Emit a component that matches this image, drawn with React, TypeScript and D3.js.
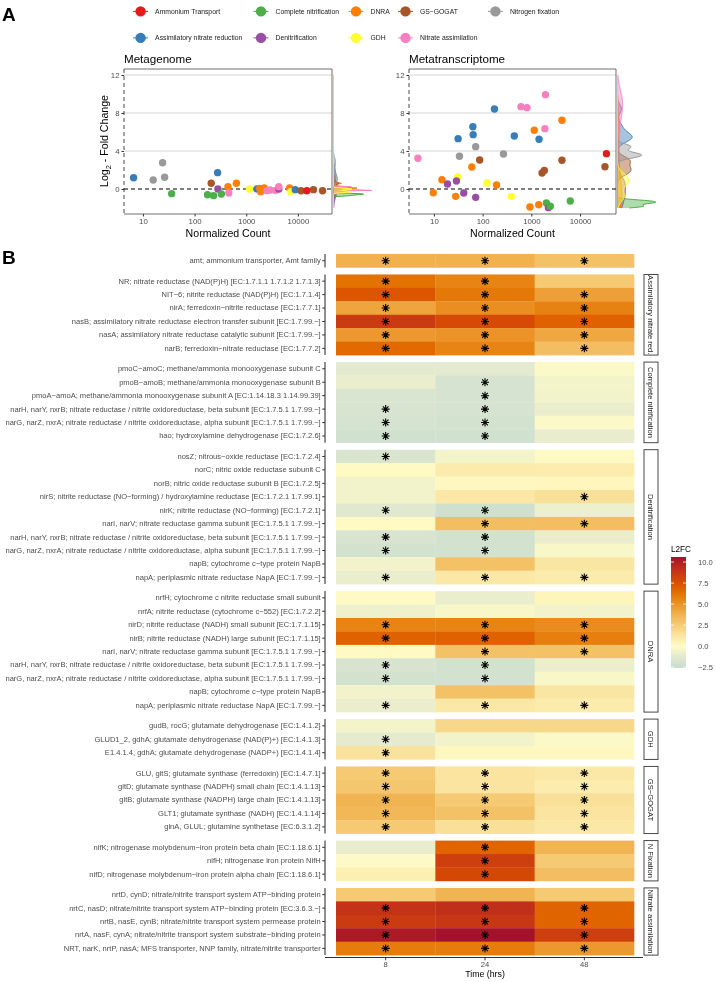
import React, { useEffect, useRef } from 'react';
import * as d3 from 'd3';

const FONT = 'Liberation Sans, Arial, Helvetica, sans-serif';

// ---- Panel A data ----
const groupNames = [
  'Ammonium Transport', 'Assimilatory nitrate reduction', 'Complete nitrification',
  'Denitrification', 'DNRA', 'GDH', 'GS\u2212GOGAT', 'Nitrate assimilation', 'Nitrogen fixation',
];
const groupColors = ['#E41A1C', '#377EB8', '#4DAF4A', '#984EA3', '#FF7F00', '#FFFF33', '#A65628', '#F781BF', '#999999'];

// Metagenome: group index, normalized count, log2 fold change
const mgGroup = [1, 8, 8, 8, 2, 2, 2, 6, 1, 3, 2, 4, 7, 4, 5, 1, 4, 4, 4, 7, 7, 7, 3, 7, 4, 5, 1, 6, 0, 6, 6];
const mgCount = [6.6, 15.8, 24, 26.3, 36, 178, 233, 210, 279, 283, 330, 443, 460, 645, 1160, 1610, 1820, 1900, 2230, 2500, 2900, 3700, 4270, 4270, 6900, 7300, 8900, 11500, 14900, 20000, 30000];
const mgL2fc = [1.19, 0.95, 2.77, 1.23, -0.49, -0.6, -0.7, 0.6, 1.72, 0, -0.53, 0.25, -0.42, 0.6, 0, 0, 0.07, -0.28, 0.1, -0.17, -0.1, -0.14, 0, 0.25, 0.1, -0.28, -0.07, -0.18, -0.18, -0.07, -0.18];

// Metatranscriptome
const mtGroup = [7, 4, 4, 5, 3, 3, 4, 1, 8, 3, 1, 1, 4, 8, 3, 6, 5, 1, 4, 8, 5, 1, 7, 7, 4, 4, 1, 4, 6, 6, 7, 7, 2, 3, 2, 4, 6, 2, 0, 6];
const mtCount = [4.7, 9.7, 14.6, 31, 19, 29, 28, 31.4, 33.5, 41, 63, 64, 60, 72, 72, 87, 123, 175, 193, 268, 390, 447, 613, 815, 935, 1150, 1440, 1420, 1660, 1850, 1900, 1950, 2040, 2240, 2450, 4250, 4250, 6300, 34800, 32500];
const mtL2fc = [3.23, -0.39, 0.98, 1.26, 0.53, 0.84, -0.77, 5.3, 3.44, -0.42, 6.56, 5.72, 2.32, 4.46, -0.88, 3.05, 0.63, 8.42, 0.42, 3.68, -0.77, 5.58, 8.67, 8.56, -1.89, 6.18, 5.23, -1.65, 1.68, 1.96, 6.35, 9.93, -1.47, -1.96, -1.82, 7.23, 3.02, -1.26, 3.72, 2.35];

const xTicks = [10, 100, 1000, 10000];
const yTicks = [0, 4, 8, 12];

// ---- Panel B data ----
const stripLabels = ['', 'Assimilatory nitrate red.', 'Complete nitrification', 'Denitrification', 'DNRA', 'GDH', 'GS\u2212GOGAT', 'N Fixation', 'Nitrate assimilation'];
const timePoints = ['8', '24', '48'];

const rowLabels = [
  'amt;  ammonium transporter, Amt family',
  'NR; nitrate reductase (NAD(P)H) [EC:1.7.1.1 1.7.1.2 1.7.1.3]',
  'NIT\u22126; nitrite reductase (NAD(P)H) [EC:1.7.1.4]',
  'nirA; ferredoxin\u2212nitrite reductase [EC:1.7.7.1]',
  'nasB; assimilatory nitrate reductase electron transfer subunit [EC:1.7.99.\u2212]',
  'nasA; assimilatory nitrate reductase catalytic subunit [EC:1.7.99.\u2212]',
  'narB; ferredoxin\u2212nitrate reductase [EC:1.7.7.2]',
  'pmoC\u2212amoC; methane/ammonia monooxygenase subunit C',
  'pmoB\u2212amoB; methane/ammonia monooxygenase subunit B',
  'pmoA\u2212amoA; methane/ammonia monooxygenase subunit A [EC:1.14.18.3 1.14.99.39]',
  'narH, narY, nxrB; nitrate reductase / nitrite oxidoreductase, beta subunit [EC:1.7.5.1 1.7.99.\u2212]',
  'narG, narZ, nxrA; nitrate reductase / nitrite oxidoreductase, alpha subunit [EC:1.7.5.1 1.7.99.\u2212]',
  'hao; hydroxylamine dehydrogenase [EC:1.7.2.6]',
  'nosZ; nitrous\u2212oxide reductase [EC:1.7.2.4]',
  'norC; nitric oxide reductase subunit C',
  'norB; nitric oxide reductase subunit B [EC:1.7.2.5]',
  'nirS; nitrite reductase (NO\u2212forming) / hydroxylamine reductase [EC:1.7.2.1 1.7.99.1]',
  'nirK; nitrite reductase (NO\u2212forming) [EC:1.7.2.1]',
  'narI, narV; nitrate reductase gamma subunit [EC:1.7.5.1 1.7.99.\u2212]',
  'narH, narY, nxrB; nitrate reductase / nitrite oxidoreductase, beta subunit [EC:1.7.5.1 1.7.99.\u2212]',
  'narG, narZ, nxrA; nitrate reductase / nitrite oxidoreductase, alpha subunit [EC:1.7.5.1 1.7.99.\u2212]',
  'napB; cytochrome c\u2212type protein NapB',
  'napA; periplasmic nitrate reductase NapA [EC:1.7.99.\u2212]',
  'nrfH; cytochrome c nitrite reductase small subunit',
  'nrfA; nitrite reductase (cytochrome c\u2212552) [EC:1.7.2.2]',
  'nirD; nitrite reductase (NADH) small subunit [EC:1.7.1.15]',
  'nirB; nitrite reductase (NADH) large subunit [EC:1.7.1.15]',
  'narI, narV; nitrate reductase gamma subunit [EC:1.7.5.1 1.7.99.\u2212]',
  'narH, narY, nxrB; nitrate reductase / nitrite oxidoreductase, beta subunit [EC:1.7.5.1 1.7.99.\u2212]',
  'narG, narZ, nxrA; nitrate reductase / nitrite oxidoreductase, alpha subunit [EC:1.7.5.1 1.7.99.\u2212]',
  'napB; cytochrome c\u2212type protein NapB',
  'napA; periplasmic nitrate reductase NapA [EC:1.7.99.\u2212]',
  'gudB, rocG; glutamate dehydrogenase [EC:1.4.1.2]',
  'GLUD1_2, gdhA; glutamate dehydrogenase (NAD(P)+) [EC:1.4.1.3]',
  'E1.4.1.4, gdhA; glutamate dehydrogenase (NADP+) [EC:1.4.1.4]',
  'GLU, gltS; glutamate synthase (ferredoxin) [EC:1.4.7.1]',
  'gltD; glutamate synthase (NADPH) small chain [EC:1.4.1.13]',
  'gltB; glutamate synthase (NADPH) large chain [EC:1.4.1.13]',
  'GLT1; glutamate synthase (NADH) [EC:1.4.1.14]',
  'glnA, GLUL; glutamine synthetase [EC:6.3.1.2]',
  'nifK; nitrogenase molybdenum\u2212iron protein beta chain [EC:1.18.6.1]',
  'nifH; nitrogenase iron protein NifH',
  'nifD; nitrogenase molybdenum\u2212iron protein alpha chain [EC:1.18.6.1]',
  'nrtD, cynD; nitrate/nitrite transport system ATP\u2212binding protein',
  'nrtC, nasD; nitrate/nitrite transport system ATP\u2212binding protein [EC:3.6.3.\u2212]',
  'nrtB, nasE, cynB; nitrate/nitrite transport system permease protein',
  'nrtA, nasF, cynA; nitrate/nitrite transport system substrate\u2212binding protein',
  'NRT, narK, nrtP, nasA; MFS transporter, NNP family, nitrate/nitrite transporter',
];
const rowPanel = [0, 1, 1, 1, 1, 1, 1, 2, 2, 2, 2, 2, 2, 3, 3, 3, 3, 3, 3, 3, 3, 3, 3, 4, 4, 4, 4, 4, 4, 4, 4, 4, 5, 5, 5, 6, 6, 6, 6, 6, 7, 7, 7, 8, 8, 8, 8, 8];

const l2fc8 = [3.8, 6.3, 7.3, 4.3, 8.6, 4.8, 6.6, -1.2, -0.9, -1.7, -1.8, -1.9, -2.1, -1.7, 0.1, -0.6, -0.6, -1.4, 0.1, -1.8, -2.0, -0.6, -0.9, 0.1, -0.7, 5.6, 6.9, 0.1, -1.8, -2.0, -0.6, -0.9, -0.5, -1.1, 1.4, 2.6, 2.8, 3.7, 3.5, 2.6, -1.0, -0.1, 0.7, 2.6, 9.0, 8.6, 10.2, 5.9];
const l2fc24 = [3.8, 5.6, 6.0, 5.2, 7.8, 5.0, 5.6, -1.2, -1.9, -1.9, -1.9, -2.0, -2.1, -0.5, 0.9, 0.2, 1.1, -2.2, 3.2, -2.0, -2.0, 3.0, 1.1, -0.9, -0.3, 5.6, 6.9, 3.0, -2.0, -2.0, 3.0, 1.1, 1.9, -0.6, 0.2, 1.3, 1.3, 2.6, 3.0, 1.5, 6.8, 8.4, 7.9, 3.7, 9.2, 8.8, 10.6, 5.9];
const l2fc48 = [3.0, 2.6, 4.5, 5.7, 6.9, 4.2, 3.2, -0.2, -0.5, -0.6, -0.9, -0.2, -1.0, 0.1, 0.8, 0.3, 1.5, -0.8, 3.2, -0.9, -0.3, 1.2, 0.9, 0.4, -0.6, 5.3, 5.8, 3.0, -0.9, -0.3, 1.2, 0.9, 1.9, -0.2, 0.2, 1.1, 0.8, 1.5, 1.3, 1.1, 3.7, 2.6, 3.2, 2.6, 6.8, 6.8, 8.4, 4.8];
const sig8 = [1, 1, 1, 1, 1, 1, 1, 0, 0, 0, 1, 1, 1, 1, 0, 0, 0, 1, 0, 1, 1, 0, 1, 0, 0, 1, 1, 0, 1, 1, 0, 1, 0, 1, 1, 1, 1, 1, 1, 1, 0, 0, 0, 0, 1, 1, 1, 1];
const sig24 = [1, 1, 1, 1, 1, 1, 1, 0, 1, 1, 1, 1, 1, 0, 0, 0, 0, 1, 1, 1, 1, 0, 1, 0, 0, 1, 1, 1, 1, 1, 0, 1, 0, 0, 0, 1, 1, 1, 1, 1, 1, 1, 1, 0, 1, 1, 1, 1];
const sig48 = [1, 0, 1, 1, 1, 1, 1, 0, 0, 0, 0, 0, 0, 0, 0, 0, 1, 0, 1, 0, 0, 0, 1, 0, 0, 1, 1, 1, 0, 0, 0, 1, 0, 0, 0, 1, 1, 1, 1, 1, 0, 0, 0, 0, 1, 1, 1, 1];

const colorStops = [-2.6, -1.25, 0, 1.25, 2.5, 3.75, 5, 6.25, 7.5, 9, 10.6];
const colorValues = ['#c7dccf', '#e3e9d0', '#fffcc6', '#fae5a2', '#f5cc76', '#f1b350', '#eb9327', '#e47300', '#da5000', '#c43318', '#a3122a'];
const legendTicks = [-2.5, 0, 2.5, 5, 7.5, 10];

function bwNrd0(v: number[]) {
  const s = v.slice().sort(d3.ascending);
  const sd = d3.deviation(s) || 0;
  const iqr = (d3.quantile(s, 0.75) as number) - (d3.quantile(s, 0.25) as number);
  let lo = Math.min(sd, iqr / 1.34);
  if (!(lo > 0)) lo = sd || Math.abs(s[0]) || 1;
  return 0.9 * lo * Math.pow(s.length, -0.2);
}

export default function App() {
  const svgRef = useRef<SVGSVGElement>(null);

  useEffect(() => {
    const svg = d3.select(svgRef.current);
    svg.selectAll('*').remove();
    svg.append('rect').attr('width', 716).attr('height', 982).attr('fill', '#fff');

    // Panel letters
    svg.append('text').attr('x', 2).attr('y', 20.5).attr('font-family', FONT).attr('font-weight', 'bold')
      .attr('font-size', 19).text('A');
    svg.append('text').attr('x', 2).attr('y', 264).attr('font-family', FONT).attr('font-weight', 'bold')
      .attr('font-size', 19).text('B');

    // Legend (2 rows, column-major)
    const keyX = [140.6, 261, 356, 405.5, 495.4];
    const keyY = [11.4, 37.9];
    groupNames.forEach((name, i) => {
      const cx = keyX[Math.floor(i / 2)], cy = keyY[i % 2];
      const g = svg.append('g');
      g.append('line').attr('x1', cx - 7.5).attr('x2', cx + 7.5).attr('y1', cy).attr('y2', cy)
        .attr('stroke', groupColors[i]).attr('stroke-width', 1);
      g.append('circle').attr('cx', cx).attr('cy', cy).attr('r', 5.2).attr('fill', groupColors[i]);
      g.append('text').attr('x', cx + 14.5).attr('y', cy).attr('dy', '0.35em')
        .attr('font-family', FONT).attr('font-size', 6.8).attr('fill', '#1a1a1a').text(name);
    });

    // ---- Scatter panels ----
    const y = d3.scaleLinear().domain([-2.63, 12.63]).range([214, 69]);
    const drawScatter = (left: number, right: number, xDomain: [number, number], grp: number[], cnt: number[], val: number[], title: string, yTitle: boolean) => {
      const x = d3.scaleLog().domain(xDomain).range([left, right]);
      const g = svg.append('g');
      const [top, bottom] = y.range().slice().reverse();

      // grid
      g.selectAll('.grid').data(yTicks.filter(t => t !== 0)).join('line')
        .attr('x1', left).attr('x2', right).attr('y1', d => y(d)).attr('y2', d => y(d))
        .attr('stroke', '#d4d4d4').attr('stroke-width', 1);

      // frame: solid top/right/bottom, dashed left
      g.append('path').attr('d', `M${left},${top}H${right}V${bottom}H${left}`)
        .attr('fill', 'none').attr('stroke', '#4d4d4d').attr('stroke-width', 0.8);
      g.append('line').attr('x1', left).attr('x2', left).attr('y1', top).attr('y2', bottom)
        .attr('stroke', '#333').attr('stroke-width', 0.9).attr('stroke-dasharray', '4,3');

      // zero line
      g.append('line').attr('x1', left).attr('x2', right).attr('y1', y(0)).attr('y2', y(0))
        .attr('stroke', '#000').attr('stroke-width', 1.1).attr('stroke-dasharray', '4,3');

      // axes
      const yAxis = g.append('g').attr('transform', `translate(${left},0)`)
        .call(d3.axisLeft(y).tickValues(yTicks).tickSize(2.5).tickPadding(2).tickFormat(d3.format('d')));
      const xAxis = g.append('g').attr('transform', `translate(0,${bottom})`)
        .call(d3.axisBottom(x).tickValues(xTicks).tickSize(2.5).tickPadding(2).tickFormat(d3.format('d')));
      [yAxis, xAxis].forEach(a => {
        a.select('.domain').remove();
        a.selectAll('line').attr('stroke', '#333');
        a.selectAll('text').attr('font-family', FONT).attr('font-size', 7.8).attr('fill', '#4d4d4d');
      });

      // marginal densities
      const base = right + 1.5;
      const grid = d3.range(-2, 12.0001, 0.05);
      const order = [0, 1, 2, 3, 4, 6, 7, 8, 5];
      const dens = order.map(gi => {
        const v = val.filter((_, i) => grp[i] === gi);
        if (v.length < 2) return null;
        const bw = bwNrd0(v);
        const pts = grid.map(t => [t, d3.sum(v, d => Math.exp(-0.5 * ((t - d) / bw) ** 2)) / (v.length * bw * Math.sqrt(2 * Math.PI))] as [number, number]);
        return { gi, pts };
      }).filter(Boolean) as { gi: number; pts: [number, number][] }[];
      const maxD = d3.max(dens, d => d3.max(d.pts, p => p[1])) as number;
      const dx = d3.scaleLinear().domain([0, maxD]).range([base, base + 38]);
      dens.forEach(d => {
        g.append('path').datum(d.pts)
          .attr('d', d3.area<[number, number]>().y(p => y(p[0])).x0(base).x1(p => dx(p[1])))
          .attr('fill', groupColors[d.gi]).attr('fill-opacity', 0.45);
        g.append('path').datum(d.pts)
          .attr('d', d3.line<[number, number]>().y(p => y(p[0])).x(p => dx(p[1])))
          .attr('fill', 'none').attr('stroke', groupColors[d.gi]).attr('stroke-width', 1);
      });

      // points
      g.selectAll('.pt').data(cnt).join('circle')
        .attr('cx', d => x(d)).attr('cy', (_, i) => y(val[i])).attr('r', 3.7)
        .attr('fill', (_, i) => groupColors[grp[i]]);

      // titles
      g.append('text').attr('x', left).attr('y', 63).attr('font-family', FONT).attr('font-size', 11.6)
        .attr('fill', '#000').text(title);
      g.append('text').attr('x', (left + right) / 2).attr('y', 237).attr('text-anchor', 'middle')
        .attr('font-family', FONT).attr('font-size', 10.6).attr('fill', '#000').text('Normalized Count');
      if (yTitle) {
        const t = g.append('text').attr('transform', `translate(108,141) rotate(-90)`).attr('text-anchor', 'middle')
          .attr('font-family', FONT).attr('font-size', 10.6).attr('fill', '#000');
        t.append('tspan').text('Log');
        t.append('tspan').attr('font-size', 7.5).attr('dy', 2.5).text('2');
        t.append('tspan').attr('dy', -2.5).text(' - Fold Change');
      }
    };
    drawScatter(124, 332, [4.3, 45700], mgGroup, mgCount, mgL2fc, 'Metagenome', true);
    drawScatter(409, 616, [3.08, 54700], mtGroup, mtCount, mtL2fc, 'Metatranscriptome', false);

    // ---- Heatmap ----
    const color = d3.scaleLinear<string>().domain(colorStops).range(colorValues).clamp(true);
    const x = d3.scaleBand().domain(timePoints).range([336, 634]);
    const rowH = 13.44, gap = 7, top0 = 254;
    const axisX = 325;
    const hm = svg.append('g');
    const values = [l2fc8, l2fc24, l2fc48];
    const sigs = [sig8, sig24, sig48];
    let rowsBefore = 0;
    stripLabels.forEach((strip, p) => {
      const idx = rowLabels.map((_, i) => i).filter(i => rowPanel[i] === p);
      const pTop = top0 + rowsBefore * rowH + p * gap;
      const pBot = pTop + idx.length * rowH;
      rowsBefore += idx.length;
      const yb = d3.scaleBand<number>().domain(idx).range([pTop, pBot]);

      timePoints.forEach((tp, c) => {
        hm.selectAll(null).data(idx).join('rect')
          .attr('x', x(tp) as number).attr('width', x.bandwidth() + 0.3)
          .attr('y', i => yb(i) as number).attr('height', yb.bandwidth() + 0.3)
          .attr('fill', i => color(values[c][i]));
      });
      timePoints.forEach((tp, c) => {
        const cx = (x(tp) as number) + x.bandwidth() / 2;
        idx.filter(i => sigs[c][i]).forEach(i => {
          const cy = (yb(i) as number) + yb.bandwidth() / 2;
          const r = 4;
          const d = [0, 45, 90, 135].map(a => {
            const rad = (a * Math.PI) / 180;
            return `M${cx - r * Math.cos(rad)},${cy - r * Math.sin(rad)}L${cx + r * Math.cos(rad)},${cy + r * Math.sin(rad)}`;
          }).join('');
          hm.append('path').attr('d', d).attr('stroke', '#000').attr('stroke-width', 1.1);
        });
      });

      const ax = hm.append('g').attr('transform', `translate(${axisX},0)`)
        .call(d3.axisLeft(yb).tickSize(2.8).tickPadding(1.5).tickFormat(i => rowLabels[i as number]));
      ax.select('.domain').attr('d', `M0,${pTop}V${pBot}`).attr('stroke', '#333').attr('stroke-width', 1.1);
      ax.selectAll('line').attr('stroke', '#333');
      ax.selectAll('text').attr('font-family', FONT).attr('font-size', 7.55).attr('fill', '#4d4d4d');

      if (strip) {
        hm.append('rect').attr('x', 644).attr('y', pTop).attr('width', 14).attr('height', pBot - pTop)
          .attr('fill', '#fff').attr('stroke', '#333').attr('stroke-width', 0.9);
        hm.append('text').attr('transform', `translate(651,${(pTop + pBot) / 2}) rotate(90)`)
          .attr('text-anchor', 'middle').attr('dy', '0.35em').attr('font-family', FONT).attr('font-size', 7.6)
          .attr('fill', '#1a1a1a').text(strip);
      }
    });

    const xb = hm.append('g').attr('transform', 'translate(0,957.5)')
      .call(d3.axisBottom(x).tickSize(2.8).tickPadding(1.5));
    xb.select('.domain').attr('d', `M${axisX},0H643`).attr('stroke', '#333').attr('stroke-width', 1.1);
    xb.selectAll('line').attr('stroke', '#333');
    xb.selectAll('text').attr('font-family', FONT).attr('font-size', 7.6).attr('fill', '#4d4d4d');
    hm.append('text').attr('x', 485).attr('y', 977).attr('text-anchor', 'middle').attr('font-family', FONT)
      .attr('font-size', 8.8).attr('fill', '#000').text('Time (hrs)');

    // ---- Colour bar ----
    const ly = d3.scaleLinear().domain([-2.6, 10.6]).range([668, 557]);
    const grad = svg.append('defs').append('linearGradient').attr('id', 'l2fc')
      .attr('x1', 0).attr('y1', 1).attr('x2', 0).attr('y2', 0);
    colorStops.forEach((s, i) => {
      grad.append('stop').attr('offset', (s + 2.6) / 13.2).attr('stop-color', colorValues[i]);
    });
    svg.append('rect').attr('x', 671).attr('y', 557).attr('width', 15).attr('height', 111).attr('fill', 'url(#l2fc)');
    legendTicks.forEach(t => {
      svg.append('line').attr('x1', 671).attr('x2', 674).attr('y1', ly(t)).attr('y2', ly(t)).attr('stroke', '#fff').attr('stroke-width', 0.8);
      svg.append('line').attr('x1', 683).attr('x2', 686).attr('y1', ly(t)).attr('y2', ly(t)).attr('stroke', '#fff').attr('stroke-width', 0.8);
      svg.append('text').attr('x', 698).attr('y', ly(t)).attr('dy', '0.35em').attr('font-family', FONT)
        .attr('font-size', 7.6).attr('fill', '#4d4d4d').text(d3.format('.1f')(t).replace('-', '\u2212'));
    });
    svg.append('text').attr('x', 671).attr('y', 552).attr('font-family', FONT).attr('font-size', 8.2)
      .attr('fill', '#000').text('L2FC');
  }, []);

  return (
    <svg ref={svgRef} width={716} height={982} style={{ position: 'absolute', left: 0, top: 0, willChange: 'transform' }} />
  );
}
